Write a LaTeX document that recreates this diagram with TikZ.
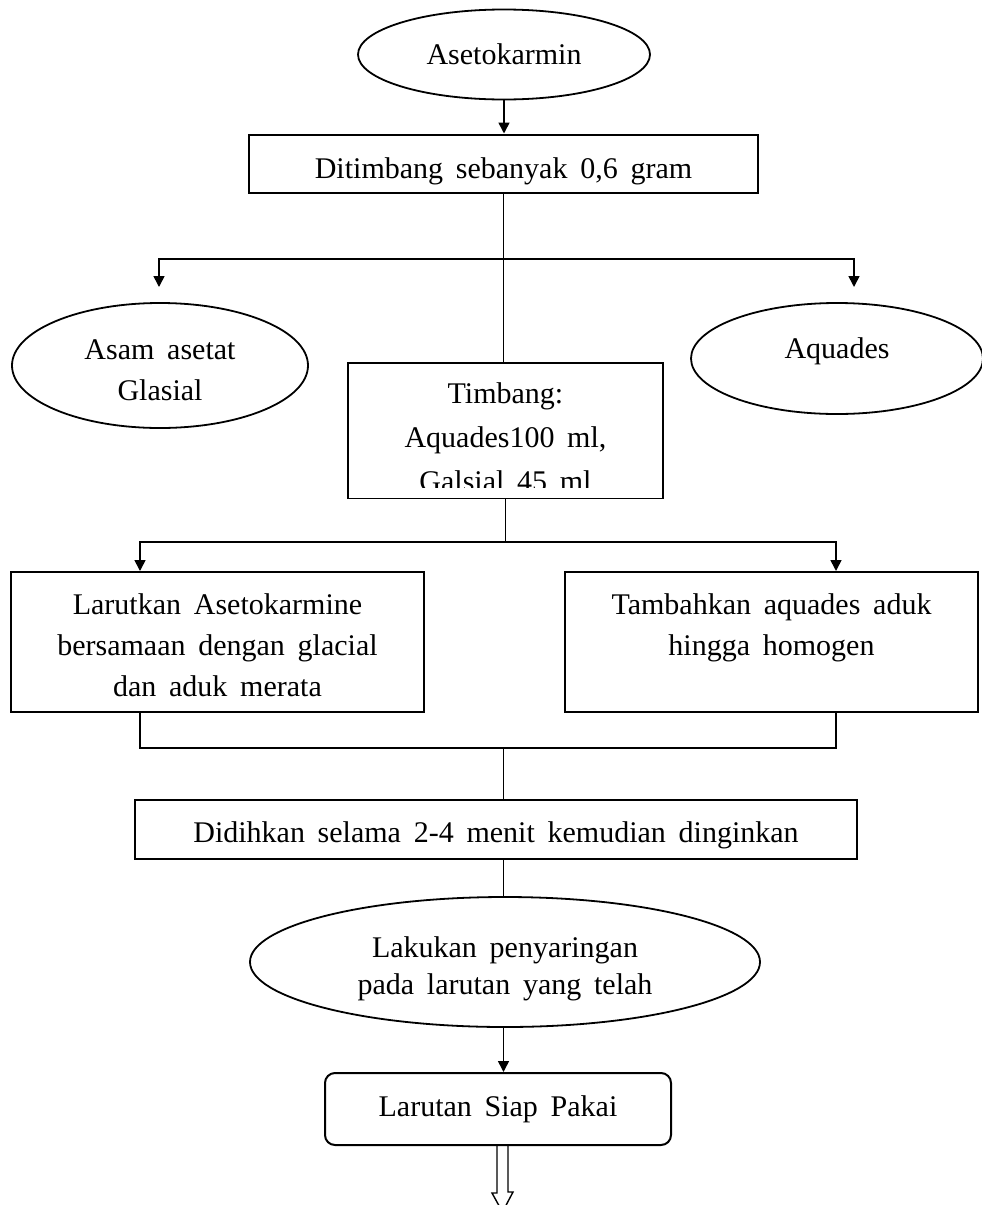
\documentclass[tikz,border=0pt]{standalone}
\usepackage{fontspec}
\setmainfont{Liberation Serif}[WordSpace=1.7]
\usepackage{tikz}
\usetikzlibrary{shapes, arrows.meta, calc}

\newcommand{\txtpad}[2]{\rule[-#2]{0pt}{\dimexpr#1+#2\relax}}

\tikzset{
    prosesbox/.style={draw, rectangle, line width=2pt, inner sep=0pt, align=center, font=\fontsize{30}{41}\selectfont},
    siapbox/.style={prosesbox, rounded corners=10pt},
    oval/.style={draw, ellipse, line width=1.8pt, inner sep=0pt, align=center, font=\fontsize{30}{41}\selectfont},
    garis/.style={line width=1.6pt},
    panah/.style={garis, -{Triangle[width=11pt,length=11pt]}},
    panahdua/.style={garis, {Triangle[width=11pt,length=11pt]}-{Triangle[width=11pt,length=11pt]}},
}

\begin{document}
\begin{tikzpicture}[x=1pt,y=1pt,yscale=-1,xscale=1]
    \path[use as bounding box, fill=white] (0,0) rectangle (982,1205);

    %Ellipse
    \node (asetokarmin) at (504,54.5) [oval, minimum width=292pt, minimum height=90pt] {Asetokarmin};
    %Rect
    \node (ditimbang) at (503.5,163.5) [prosesbox, minimum width=509pt, minimum height=58pt] {\txtpad{36.5pt}{0pt}Ditimbang sebanyak 0,6 gram};
    %Ellipse
    \node (asam) at (160,365.5) [oval, minimum width=296pt, minimum height=125pt] {\txtpad{30pt}{0pt}Asam asetat\\Glasial};
    %Ellipse
    \node (aquades) at (837,358.5) [oval, minimum width=292pt, minimum height=111pt] {Aquades\txtpad{0pt}{21pt}};
    %Rect
    \node (timbang) at (505.5,430.5) [prosesbox, minimum width=315pt, minimum height=135pt, font=\fontsize{30}{44}\selectfont] {\txtpad{35pt}{0pt}Timbang:\\Aquades100 ml,\\Galsial 45 ml};
    \fill[white] ($(timbang.south west)+(2,-1.5)$) rectangle ($(timbang.south east)+(-2,-11)$);
    %Rect
    \node (larutkan) at (217.5,642) [prosesbox, minimum width=413pt, minimum height=140pt] {\txtpad{28pt}{0pt}Larutkan Asetokarmine\\bersamaan dengan glacial\\dan aduk merata};
    %Rect
    \node (tambahkan) at (771.5,642) [prosesbox, minimum width=413pt, minimum height=140pt] {Tambahkan aquades aduk\\hingga homogen\txtpad{0pt}{34.5pt}};
    %Rect
    \node (didihkan) at (496,829.5) [prosesbox, minimum width=722pt, minimum height=59pt] {\txtpad{31.5pt}{0pt}Didihkan selama 2-4 menit kemudian dinginkan};
    %Ellipse
    \node (lakukan) at (505,962) [oval, minimum width=510pt, minimum height=130pt, font=\fontsize{30}{37}\selectfont] {\txtpad{33.5pt}{0pt}Lakukan penyaringan\\pada larutan yang telah};
    %Rounded Rect
    \node (siap) at (498,1109) [siapbox, minimum width=346pt, minimum height=72pt] {Larutan Siap Pakai};

    \coordinate (br1) at (503.5,259);
    \coordinate (asamtip) at (159,287);
    \coordinate (aquatip) at (854,287);
    \coordinate (b2l) at (140,542);
    \coordinate (b2r) at (836,542);
    \coordinate (mgl) at (140,748);
    \coordinate (mgr) at (836,748);
    \coordinate (mgc) at (503.5,748);
    \coordinate (keluar) at (502.5,1212);

    %Straight Lines
    \draw[panah] (asetokarmin.south) -- (asetokarmin.south |- ditimbang.north);
    \draw[garis] (ditimbang.south) -- (ditimbang.south |- timbang.north);
    \draw[panahdua] (asamtip) -- (asamtip |- br1) -- (aquatip |- br1) -- (aquatip);
    %Straight Lines
    \draw[garis] (timbang.south) -- (timbang.south |- b2l);
    \draw[panahdua] (b2l |- larutkan.north) -- (b2l) -- (b2r) -- (b2r |- tambahkan.north);
    \draw[garis] (mgl |- larutkan.south) -- (mgl) -- (mgr) -- (mgr |- tambahkan.south);
    \draw[garis] (mgc) -- (mgc |- didihkan.north);
    \draw[garis] (mgc |- didihkan.south) -- (mgc |- lakukan.north);
    \draw[panah] (mgc |- lakukan.south) -- (mgc |- siap.north);
    %Block Arrow
    \draw[line width=1.4pt] ($(siap.south -| keluar)+(-5.5,0)$) -- ++(0,47) -- ++(-5,0) -- (keluar) -- ++(10.5,-20) -- ++(-5,0) -- ($(siap.south -| keluar)+(5.5,0)$);
\end{tikzpicture}
\end{document}
